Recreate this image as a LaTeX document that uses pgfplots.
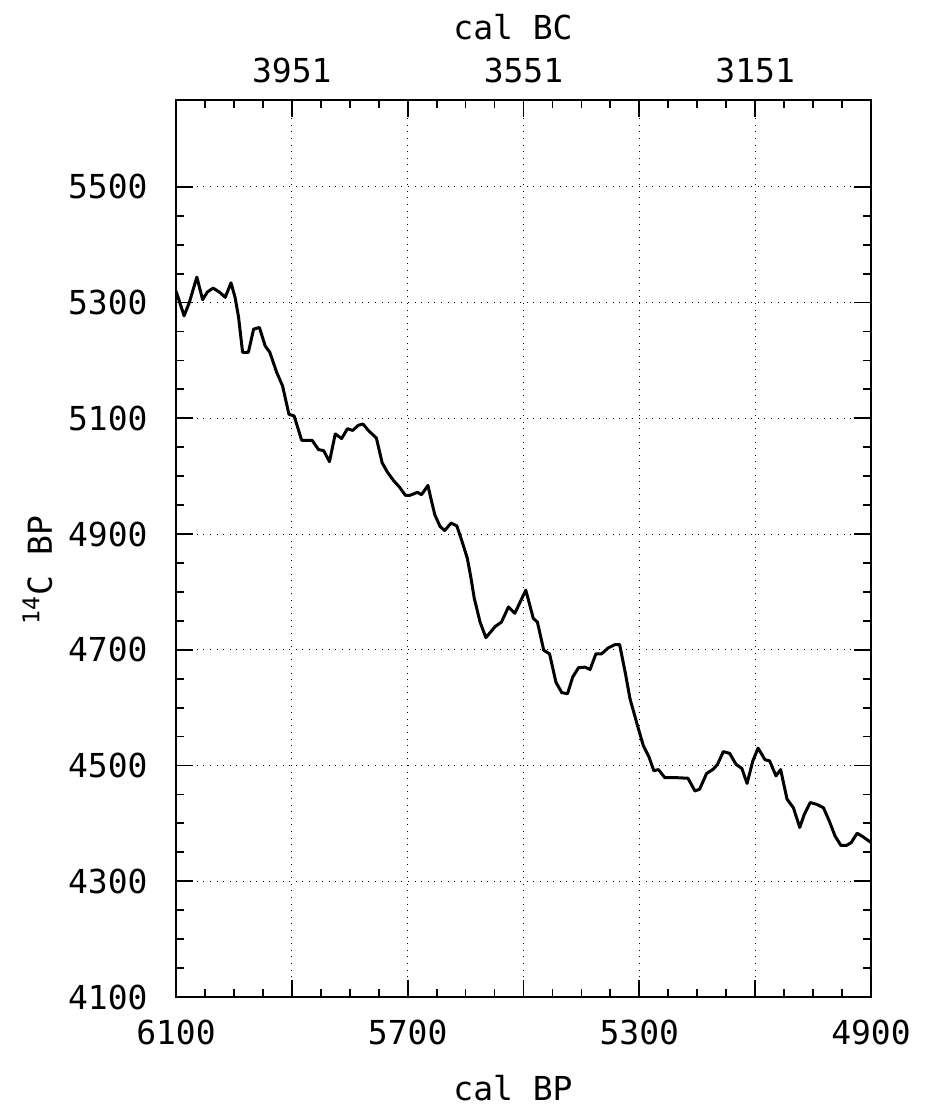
\documentclass[border=0pt]{standalone}
\usepackage{pgfplots}
\pgfplotsset{compat=1.18}
\usepackage{fontspec}
\setmainfont{DejaVu Sans Mono}
\newcommand\lab{\fontsize{16.5}{19}\selectfont}
\begin{document}
\begin{tikzpicture}
\path (-88pt,-55.5pt) rectangle (375pt,498.5pt);
\begin{axis}[
  at={(0pt,0pt)}, anchor=south west,
  width=347.5pt, height=448.5pt, scale only axis,
  xmin=4900, xmax=6100, x dir=reverse,
  ymin=4100, ymax=5650,
  xtick={4900,5100,5300,5500,5700,5900,6100},
  xticklabels={4900,,5300,,5700,,6100},
  ytick={4100,4300,4500,4700,4900,5100,5300,5500},
  yticklabels={4100,4300,4500,4700,4900,5100,5300,5500},
  minor x tick num=3, minor y tick num=3,
  tick align=inside, xtick pos=both, ytick pos=both,
  xticklabel pos=bottom, yticklabel pos=left,
  major tick length=8.5pt, minor tick length=4pt,
  every tick/.style={black, line width=0.9pt},
  axis line style={black, line width=1pt},
  grid=major,
  major grid style={black, line width=0.5pt, dash pattern=on 0.5pt off 2.8pt},
  xticklabel style={font=\lab, inner sep=0pt, anchor=north, yshift=-11.5pt},
  yticklabel style={font=\lab, inner sep=0pt, anchor=east, xshift=-14pt},
]
\addplot[black, line width=1.5pt, line join=round, mark=none] coordinates {
(6100,5320) (6086,5277) (6077,5300) (6064,5344) (6054,5305) (6046,5318)
(6036,5325) (6025,5318) (6015,5309) (6005,5334) (5998,5309) (5992,5275)
(5985,5214) (5975,5214) (5966,5254) (5956,5257) (5946,5225) (5938,5214)
(5926,5179) (5916,5156) (5905,5107) (5896,5104) (5883,5062) (5865,5062)
(5854,5046) (5845,5044) (5835,5025) (5825,5073) (5814,5065) (5804,5082)
(5795,5079) (5785,5088) (5777,5090) (5767,5078) (5754,5066) (5744,5023)
(5735,5007) (5724,4992) (5714,4981) (5704,4967) (5696,4967) (5683,4972)
(5676,4968) (5665,4984) (5660,4962) (5653,4933) (5644,4913) (5636,4906)
(5625,4919) (5615,4914) (5606,4887) (5597,4858) (5591,4826) (5585,4789)
(5575,4748) (5565,4721) (5549,4740) (5538,4748) (5526,4774) (5515,4763)
(5496,4803) (5483,4754) (5476,4748) (5465,4699) (5455,4693) (5444,4644)
(5434,4626) (5424,4624) (5415,4653) (5405,4669) (5394,4670) (5385,4666)
(5375,4693) (5365,4693) (5354,4703) (5342,4709) (5334,4709) (5324,4659)
(5316,4615) (5304,4572) (5293,4534) (5283,4514) (5275,4491) (5267,4493)
(5256,4479) (5236,4479) (5216,4478) (5204,4456) (5196,4459) (5184,4486)
(5172,4494) (5165,4502) (5155,4524) (5144,4521) (5133,4502) (5123,4495)
(5114,4469) (5104,4508) (5095,4530) (5083,4510) (5075,4508) (5064,4482)
(5056,4493) (5045,4442) (5034,4427) (5023,4393) (5015,4416) (5005,4436)
(4994,4433) (4982,4427) (4972,4404) (4962,4378) (4952,4362) (4942,4362)
(4934,4367) (4924,4383) (4914,4377) (4900,4367)
};
\end{axis}
\begin{axis}[
  at={(0pt,0pt)}, anchor=south west,
  width=347.5pt, height=448.5pt, scale only axis,
  xmin=4900, xmax=6100, x dir=reverse,
  ymin=4100, ymax=5650,
  axis x line*=top, hide y axis,
  axis line style={black, line width=1pt},
  xtick={5100,5500,5900}, xticklabels={3151,3551,3951},
  major tick length=0pt, minor tick num=0,
  xticklabel style={font=\lab, inner sep=0pt, anchor=south, yshift=8.5pt},
]
\addplot[draw=none] coordinates {(5000,4500)};
\end{axis}
\node[font=\lab, anchor=center] at (168.5pt,485pt) {cal BC};
\node[font=\lab, anchor=center] at (168.5pt,-45.5pt) {cal BP};
\node[font=\lab, rotate=90, anchor=base] at (-62pt,213.5pt) {\textsuperscript{14}C BP};
\end{tikzpicture}
\end{document}
